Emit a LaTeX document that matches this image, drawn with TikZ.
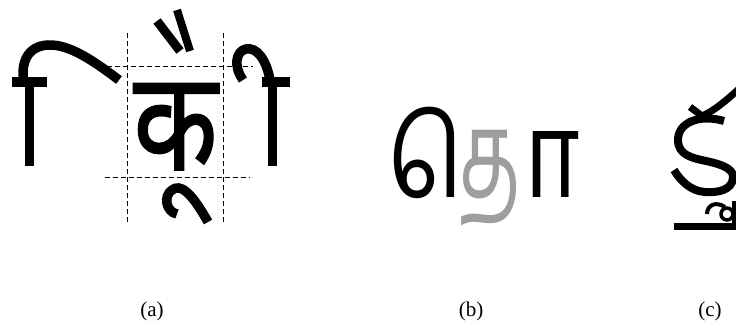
\documentclass[tikz,border=0pt]{standalone}
\usepackage{graphicx}
\usepackage{fontspec}
\setmainfont{Liberation Serif}
\newfontfamily\devfont[Script=Devanagari,FakeBold=1.2]{Noto Sans}
\newfontfamily\tamfont[Script=Tamil]{Hind Madurai}
\definecolor{glyphgray}{gray}{0.62}
\newcommand\tamsize{\tamfont\fontsize{120}{120}\selectfont}
% a Tamil vowel sign set on its own, without a carrier letter
\newcommand\tamsign[1]{{\tamsize\XeTeXglyph\XeTeXcharglyph"#1\relax}}
\begin{document}
\begin{tikzpicture}[x=1pt,y=-1pt,
  stroke/.style={line width=9.5pt},
  thinstroke/.style={line width=7pt},
  guide/.style={line width=0.8pt,dash pattern=on 5pt off 3pt},
  caption/.style={font=\fontsize{21}{21}\selectfont,inner sep=0pt}]
\useasboundingbox (0,0) rectangle (736,326);
\begin{scope}
\clip (0,0) rectangle (736,326);
% ---------- (a) ----------
% left matra piece
\fill (25,78) rectangle (34,166);
\fill (12,77) rectangle (47,87);
\draw[stroke] (24,84) .. controls (20,62) and (28,46) .. (48,45) .. controls (70,44) and (95,62) .. (119,80);
% right matra piece
\fill (268,78) rectangle (277,166);
\fill (262,77) rectangle (290,87);
\draw[stroke] (270,80) .. controls (266,58) and (256,47) .. (246,49) .. controls (236,51) and (233,66) .. (243,80);
% guides
\draw[guide] (127,33) -- (127,222);
\draw[guide] (223,33) -- (223,222);
\draw[guide] (107,66) -- (253,66);
\draw[guide] (105,177) -- (250,177);
% central letter
\node[inner sep=0pt,anchor=base] (ka) at (175.5,170) {\scalebox{0.9}[1.14]{\devfont\fontsize{122}{122}\selectfont क}};
% top strokes
\draw[line width=9pt] (157,21) -- (180,51);
\draw[line width=8pt] (177,10) -- (190,51);
% bottom sign
\draw[stroke] (177,214) .. controls (166,212) and (163,196) .. (172,190) .. controls (180,184) and (190,190) .. (208,222);
% ---------- (b) ----------
\node[anchor=base west,inner sep=0pt] (tamE) at (387,197) {\scalebox{0.8}[0.93]{\tamsign{0BC6}}};
\node[anchor=base,inner sep=0pt,text=glyphgray] (tamTa) at (490,197) {\scalebox{0.67}[1.02]{\tamsize த}};
\node[anchor=base,inner sep=0pt] (tamAa) at (552,197) {\scalebox{0.8}[1]{\tamsign{0BBE}}};
% ---------- (c) ----------
\draw[thinstroke] (690,107) -- (702,116) .. controls (712,112) and (725,102) .. (742,86);
\draw[stroke,line width=8pt] (724,121) .. controls (700,114) and (678,122) .. (678,140)
   .. controls (678,155) and (692,158) .. (706,161) .. controls (725,165) and (734,170) .. (733,178)
   .. controls (732,190) and (718,193) .. (705,192) .. controls (690,191) and (680,180) .. (674,170);
\draw[line width=7pt] (674,226) -- (740,226);
\draw[line width=6pt] (735,201) -- (735,226);
\draw[line width=3.5pt] (727,214) circle (6);
\draw[line width=4pt] (707,214) .. controls (707,205) and (716,201) .. (725,207);
\end{scope}
% captions
\node[caption] (capa) at (152,311) {(a)};
\node[caption] (capb) at (471,311) {(b)};
\node[caption] (capc) at (710,311) {(c)};
\end{tikzpicture}
\end{document}
